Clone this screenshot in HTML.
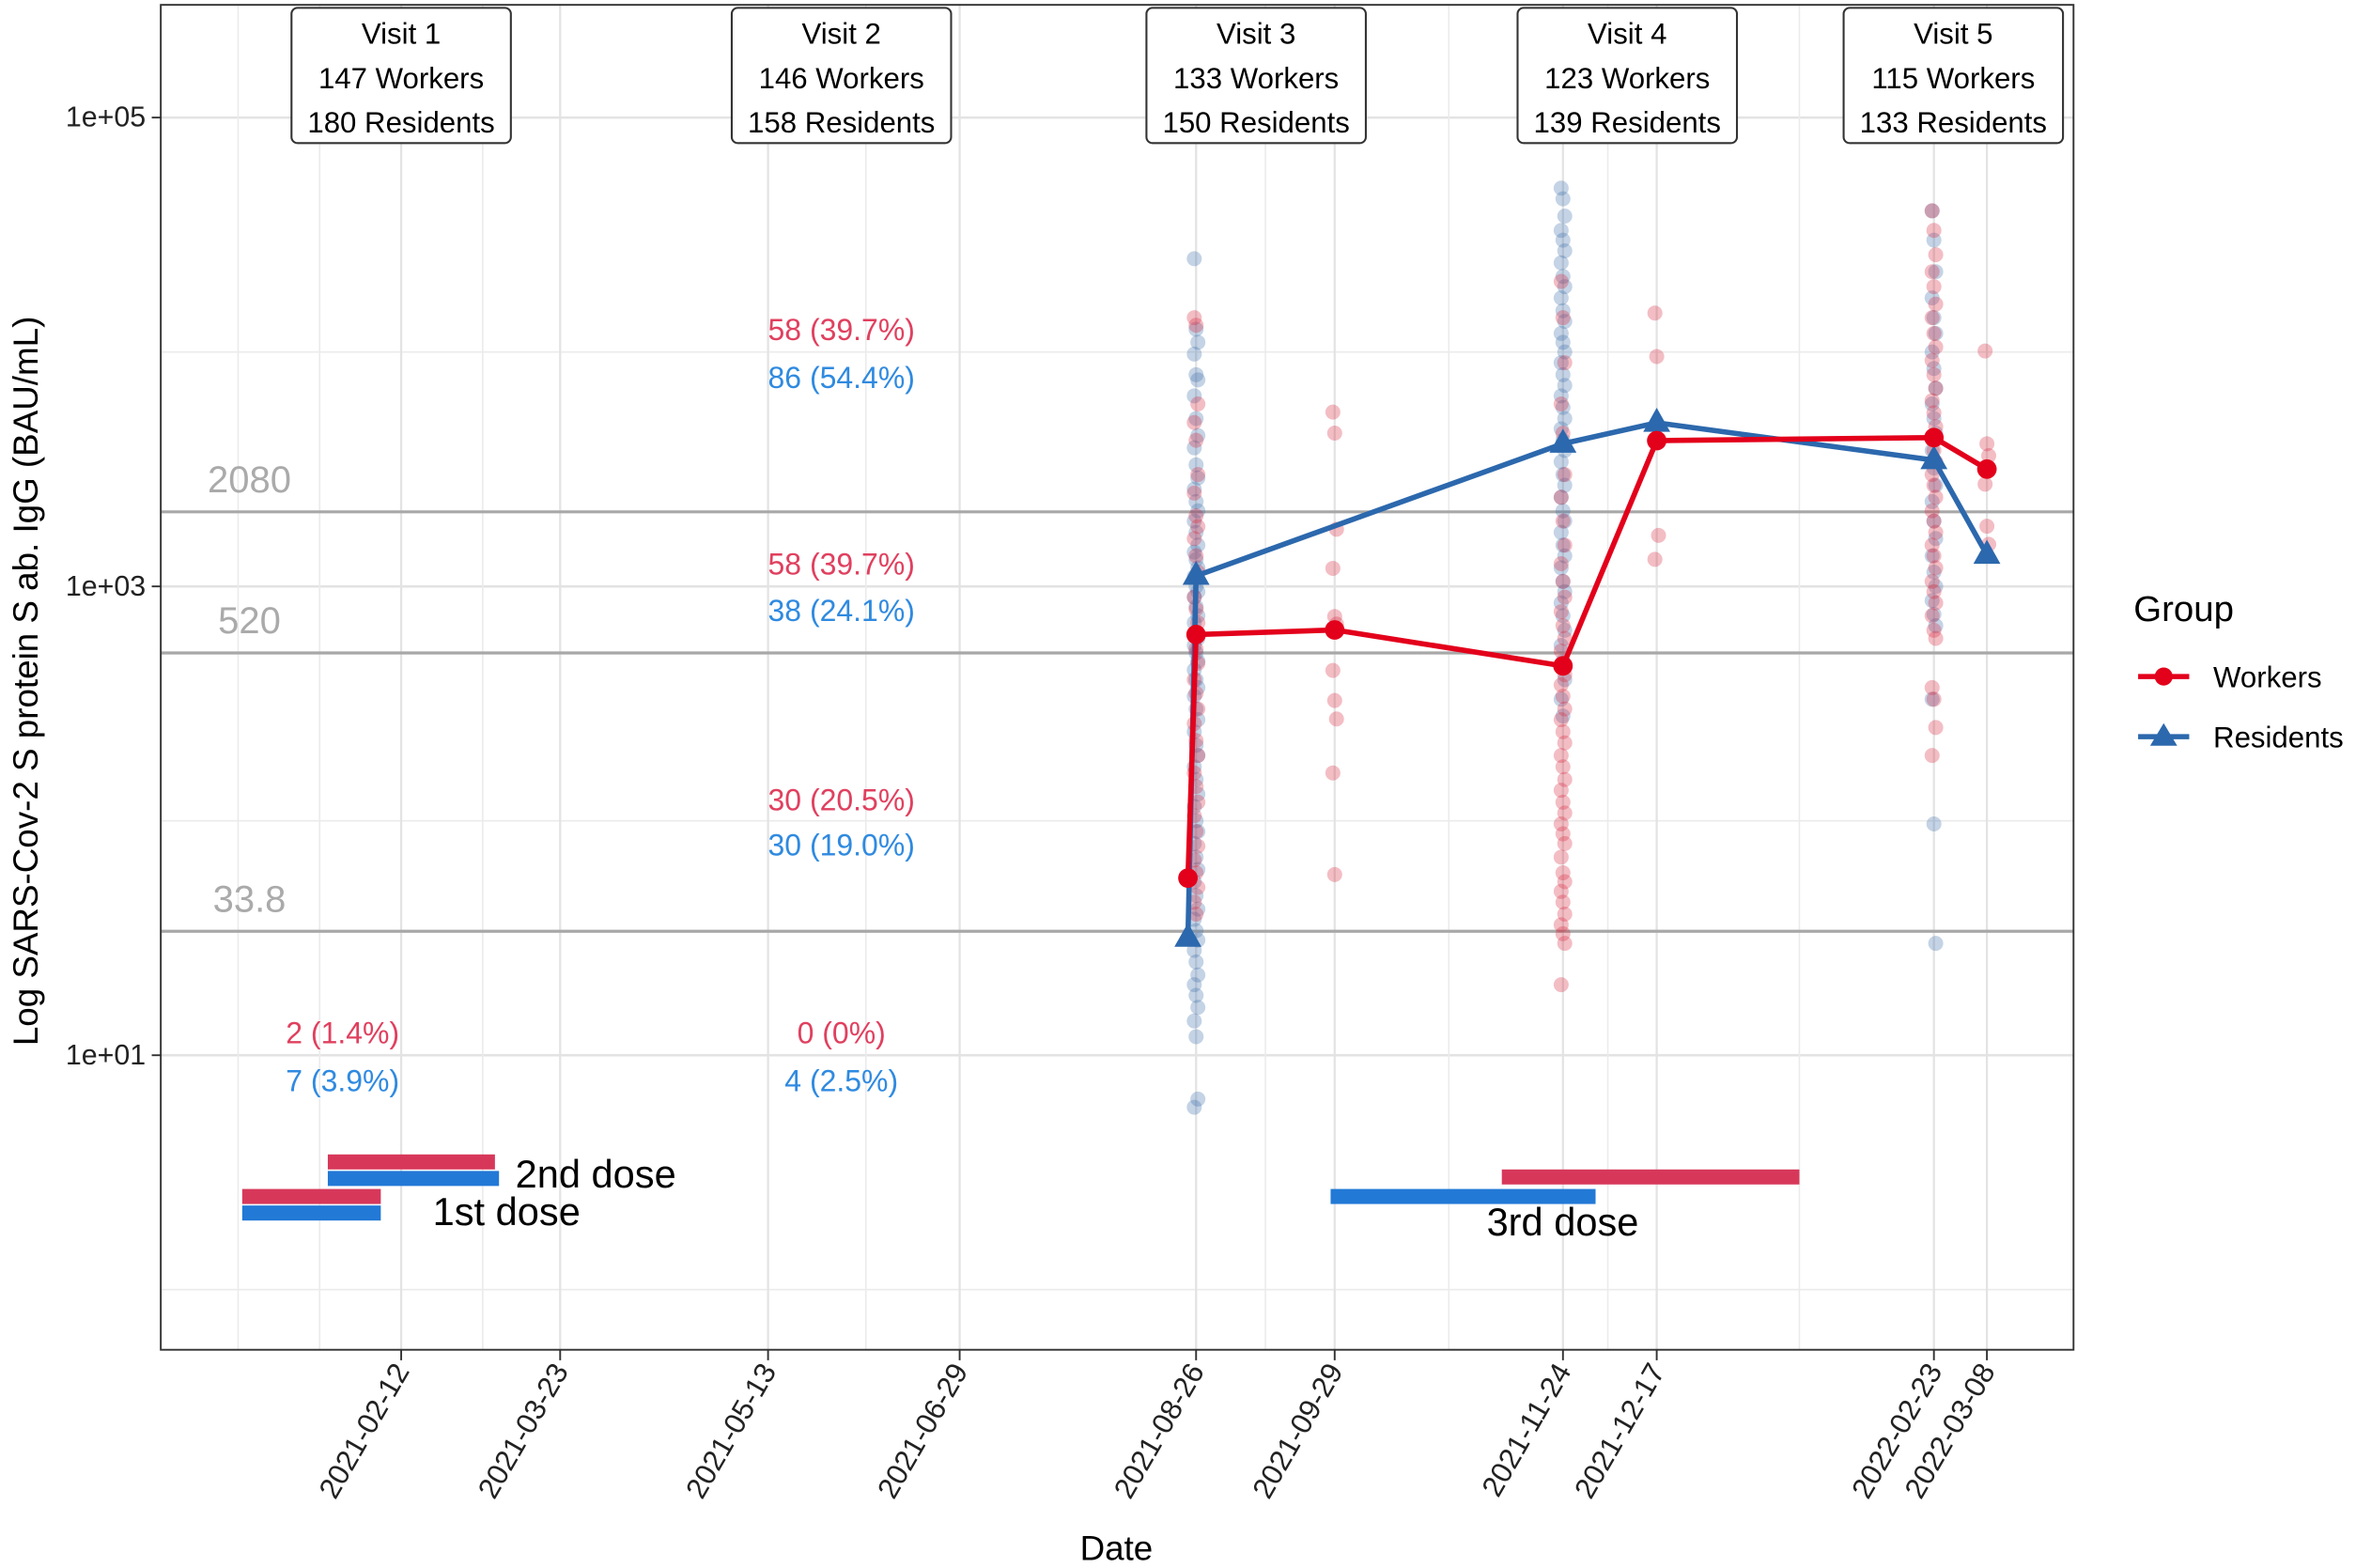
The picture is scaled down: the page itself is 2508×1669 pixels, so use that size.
<!DOCTYPE html>
<html><head><meta charset="utf-8"><style>
html,body{margin:0;padding:0;background:#fff;}
svg{display:block;font-family:"Liberation Sans",Arial,sans-serif;}
</style></head><body>
<svg id="chart" width="2508" height="1669" viewBox="0 0 1568 1043" xmlns="http://www.w3.org/2000/svg">
<rect x="0" y="0" width="1568" height="1043" fill="#fff"/>
<g id="grid"></g>
<g id="refs"></g>
<g id="texts"></g>
<g id="doses"></g>
<g id="pts"></g>
<g id="lines"></g>
<g id="boxes"></g>
<rect x="107" y="3" width="1273" height="895" fill="none" stroke="#333" stroke-width="1.2"/>
<g id="axes"></g>
<text transform="translate(25,453) rotate(-90)" text-anchor="middle" font-size="23" fill="#000">Log SARS-Cov-2 S protein S ab. IgG (BAU/mL)</text>
<text x="743" y="1038" text-anchor="middle" font-size="23" fill="#000">Date</text>
<g>
<text x="1420" y="413" font-size="24">Group</text>
<g>
<line x1="1423" y1="450" x2="1457" y2="450" stroke="#e3001b" stroke-width="3.5"/>
<circle cx="1440" cy="450" r="6" fill="#e3001b"/>
<text x="1473" y="457" font-size="19.5">Workers</text></g>
<g>
<line x1="1423" y1="490" x2="1457" y2="490" stroke="#2c68ad" stroke-width="3.5"/>
<polygon points="1440,481 1449,496 1431,496" fill="#2c68ad"/>
<text x="1473" y="497" font-size="19.5">Residents</text></g>
</g>
</svg>
<script>
const NS="http://www.w3.org/2000/svg";
// ---- data ----
const tickDates=["2021-02-12","2021-03-23","2021-05-13","2021-06-29","2021-08-26","2021-09-29","2021-11-24","2021-12-17","2022-02-23","2022-03-08"];
const minorDates=["2021-01-03","2021-01-23","2021-03-04","2021-06-06","2021-09-12","2021-10-27","2021-12-05","2022-01-21"];
const yTickVals=[100000,1000,10];
const yTickLabels=["1e+05","1e+03","1e+01"];
const yMinorVals=[10000,100,1];
const refVals=[2080,520,33.8];
const refLabels=["2080","520","33.8"];
const workerLineDates=["2021-08-24","2021-08-26","2021-09-29","2021-11-24","2021-12-17","2022-02-23","2022-03-08"];
const workerLineVals=[57,623,652,458,4186,4312,3165];
const residentLineDates=["2021-08-24","2021-08-26","2021-11-24","2021-12-17","2022-02-23","2022-03-08"];
const residentLineVals=[31.7,1109,4062,4990,3455,1364];
const res0826=[25000,12500,11000,9800,8000,7600,6500,5200,4400,3900,3300,2900,2600,2300,2100,1900,1700,1500,1400,1300,1200,1100,1000,950,900,820,750,700,640,600,560,520,480,440,400,370,340,300,270,240,210,190,170,150,130,115,100,90,80,70,62,55,48,42,38,34,31,28,25,22,20,18,16,14,12,6.5,6];
const wrk0826=[14000,13000,6000,5000,4200,3000,2500,2000,1800,1600,1350,1150,900,800,700,620,540,470,400,350,300,260,220,190,160,140,120,105,90,78,68,60,52,45,40];
const wrk0929=[5540,4507,1752,1194,744,691,438,326,272,160,59];
const res1124=[50000,45000,38000,33000,30000,27000,24000,21000,19000,17000,15000,13500,12000,11000,10000,9000,8000,7200,6500,5800,5200,4700,4200,3800,3400,3000,2700,2400,2100,1900,1700,1500,1350,1200,1050,950,850,750,650,560,480,400,330,280];
const wrk1124=[20000,14000,9000,6000,4500,3000,2400,1900,1500,1250,1050,900,780,680,600,530,470,420,380,340,300,270,240,215,190,170,150,135,120,108,97,88,80,70,60,55,50,45,40,36,33,30,20];
const wrk1217=[14660,9560,1650,1304];
const res0223=[40000,30000,22000,17000,14000,12000,10000,8500,7000,6000,5200,4500,3800,3200,2700,2300,1900,1600,1350,1150,1000,870,760,680,330,97,30];
const wrk0223=[40000,33000,26000,22000,19000,16000,14000,12000,10500,9200,8000,7000,6200,5500,4800,4300,3800,3400,3000,2700,2400,2100,1900,1700,1500,1350,1200,1050,950,850,750,650,600,370,330,250,190];
const wrk0308=[10100,4060,3610,2730,1806,1512];
const visitLabels=[["Visit 1","147 Workers","180 Residents"],["Visit 2","146 Workers","158 Residents"],["Visit 3","133 Workers","150 Residents"],["Visit 4","123 Workers","139 Residents"],["Visit 5","115 Workers","133 Residents"]];
const pctTexts=["2 (1.4%)","7 (3.9%)","58 (39.7%)","86 (54.4%)","58 (39.7%)","38 (24.1%)","30 (20.5%)","30 (19.0%)","0 (0%)","4 (2.5%)"];
// ---- scales ----
const base=Date.UTC(2021,1,12);
function X(d){const p=d.split("-");return 267+2.713*((Date.UTC(+p[0],+p[1]-1,+p[2])-base)/86400000);}
function Y(v){return 390-156*Math.log10(v/1000);}
function mk(tag,attrs,parent){const e=document.createElementNS(NS,tag);for(const k in attrs)e.setAttribute(k,attrs[k]);document.getElementById(parent).appendChild(e);return e;}
// grid
yMinorVals.forEach(v=>{const l=mk("line",{x1:107,x2:1380,y1:Y(v),y2:Y(v),stroke:"#ebebeb","stroke-width":1},"grid");

});
yTickVals.forEach(v=>{const l=mk("line",{x1:107,x2:1380,y1:Y(v),y2:Y(v),stroke:"#e3e3e3","stroke-width":1.6},"grid");

});
minorDates.forEach(d=>{const l=mk("line",{x1:X(d),x2:X(d),y1:3,y2:898,stroke:"#ebebeb","stroke-width":1},"grid");

});
tickDates.forEach(d=>{const l=mk("line",{x1:X(d),x2:X(d),y1:3,y2:898,stroke:"#e3e3e3","stroke-width":1.4},"grid");

});
// reference lines
refVals.forEach((v,i)=>{const l=mk("line",{x1:107,x2:1380,y1:Y(v),y2:Y(v),stroke:"#a8a8a8","stroke-width":2},"refs");


const t=mk("text",{x:166,y:Y(v)-13,"text-anchor":"middle","font-size":25,fill:"#aaa"},"refs");t.textContent=refLabels[i];

});
// percentage texts
const pctPos=[[228,694,"r"],[228,726,"b"],[560,226,"r"],[560,258,"b"],[560,382,"r"],[560,413,"b"],[560,539,"r"],[560,569,"b"],[560,694,"r"],[560,726,"b"]];
pctTexts.forEach((s,i)=>{const p=pctPos[i];const t=mk("text",{x:p[0],y:p[1],"text-anchor":"middle","font-size":20,fill:p[2]=="r"?"#e0405f":"#2f8ae0"},"texts");t.textContent=s;

});
// doses
const doseRects=[["2021-01-04","2021-02-07",791,"#d7385a"],["2021-01-04","2021-02-07",802,"#2279d6"],["2021-01-25","2021-03-07",768,"#d7385a"],["2021-01-25","2021-03-08",779,"#2279d6"],["2021-09-28","2021-12-02",791,"#2279d6"],["2021-11-09","2022-01-21",778,"#d7385a"]];
doseRects.forEach(r=>{const e=mk("rect",{x:X(r[0]),y:r[2],width:X(r[1])-X(r[0]),height:10,fill:r[3]},"doses");

});
[["2nd dose",343,790,"start"],["1st dose",288,815,"start"],["3rd dose",1040,822,"middle"]].forEach(a=>{const t=mk("text",{x:a[1],y:a[2],"font-size":26,"text-anchor":a[3]},"doses");t.textContent=a[0];

});
// points
function scatter(arr,date,color,name){arr.forEach((v,i)=>{const c=mk("circle",{cx:X(date)+((i%3)-1)*1.2,cy:Y(v),r:5,fill:color,"fill-opacity":0.3},"pts");

});}
scatter(res0826,"2021-08-26","#3a6ea8","resident-point");
scatter(wrk0826,"2021-08-26","#d7263d","worker-point");
scatter(wrk0929,"2021-09-29","#d7263d","worker-point");
scatter(res1124,"2021-11-24","#3a6ea8","resident-point");
scatter(wrk1124,"2021-11-24","#d7263d","worker-point");
scatter(wrk1217,"2021-12-17","#d7263d","worker-point");
scatter(res0223,"2022-02-23","#3a6ea8","resident-point");
scatter(wrk0223,"2022-02-23","#d7263d","worker-point");
scatter(wrk0308,"2022-03-08","#d7263d","worker-point");
// lines
function series(dates,vals,color,shape,name){
const pl=mk("polyline",{points:dates.map((d,i)=>X(d)+","+Y(vals[i])).join(" "),fill:"none",stroke:color,"stroke-width":3.5,"stroke-linejoin":"round"},"lines");


dates.forEach((d,i)=>{const x=X(d),y=Y(vals[i]);let m;
if(shape=="c")m=mk("circle",{cx:x,cy:y,r:6.5,fill:color},"lines");
else m=mk("polygon",{points:`${x},${y-10} ${x+9},${y+6} ${x-9},${y+6}`,fill:color},"lines");

});}
series(residentLineDates,residentLineVals,"#2c68ad","t","residents");
series(workerLineDates,workerLineVals,"#e3001b","c","workers");
// visit boxes
const boxCx=[267,560,836,1083,1300];
visitLabels.forEach((lines,i)=>{const cx=boxCx[i];
const r=mk("rect",{x:cx-73,y:5,width:146,height:90,rx:4,fill:"#fff",stroke:"#333","stroke-width":1.3},"boxes");


lines.forEach((s,j)=>{const t=mk("text",{x:cx,y:29+j*29.5,"text-anchor":"middle","font-size":19.5},"boxes");t.textContent=s;

});});
// axes
yTickVals.forEach((v,i)=>{mk("line",{x1:101,x2:107,y1:Y(v),y2:Y(v),stroke:"#333","stroke-width":1.2},"axes");
const t=mk("text",{x:97,y:Y(v)+6,"text-anchor":"end","font-size":19,fill:"#222"},"axes");t.textContent=yTickLabels[i];

});
tickDates.forEach(d=>{const x=X(d);mk("line",{x1:x,x2:x,y1:898,y2:905,stroke:"#333","stroke-width":1.2},"axes");
const t=mk("text",{transform:`translate(${x+6},${912}) rotate(-60)`,"text-anchor":"end","font-size":19.5,fill:"#222"},"axes");t.textContent=d;

});
</script>
</body></html>
